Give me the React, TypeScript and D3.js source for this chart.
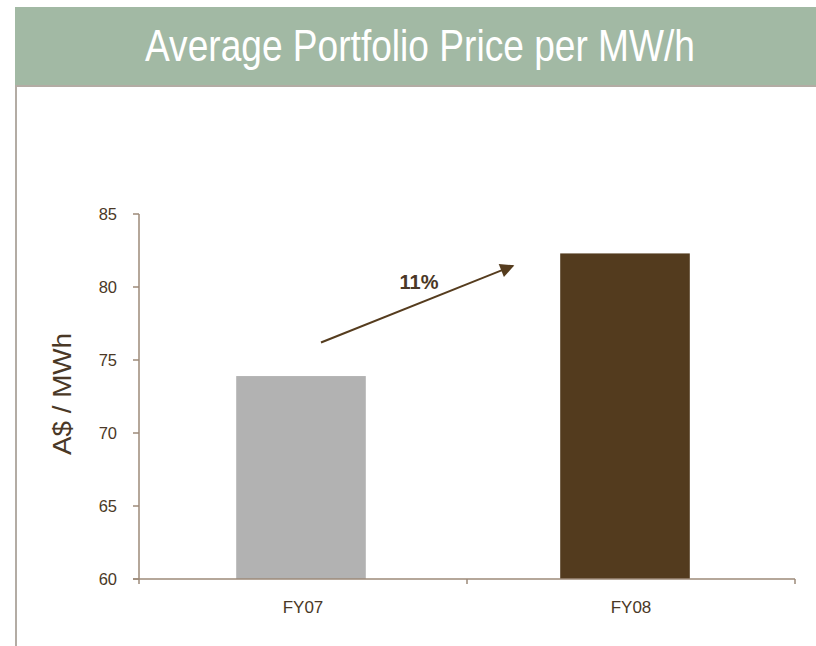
import React from "react";
import * as d3 from "d3";

const categories = ["FY07", "FY08"];
const values = [73.9, 82.3];
const barColors = ["#b2b2b2", "#533b1e"];
const yTicks = [60, 65, 70, 75, 80, 85];
const title = "Average Portfolio Price per MW/h";
const yLabel = "A$ / MWh";
const growthLabel = "11%";
const arrowFrom = 76.2;
const arrowTo = 81.45;

export default function App() {
  const W = 816, H = 646;
  const left = 139, right = 795, top = 214, bottom = 579;
  const x = d3.scaleBand<string>().domain(categories).range([left, right - 8]).paddingInner(0.6).paddingOuter(0.3);
  const xOuter = d3.scaleBand<string>().domain(categories).range([left, right]);
  const y = d3.scaleLinear().domain([60, 85]).range([bottom, top]);
  const axisColor = "#9c8a78";
  const textColor = "#4a3826";
  const x0 = (xOuter(categories[0]) as number) + xOuter.bandwidth() / 2;
  const x1 = (xOuter(categories[1]) as number) + xOuter.bandwidth() / 2;
  const ax1 = x0 + 18, ay1 = y(arrowFrom);
  const ax2 = x1 - 118, ay2 = y(arrowTo);
  return (
    <svg width={W} height={H} style={{ position: "absolute", left: 0, top: 0, fontFamily: "Liberation Sans, Arial, sans-serif" }}>
      <defs>
        <marker id="ah2" viewBox="0 0 10 10" refX="9" refY="5" markerWidth="18" markerHeight="14" orient="auto" markerUnits="userSpaceOnUse">
          <path d="M0,0 L10,5 L0,10 z" fill="#553c1e" />
        </marker>
      </defs>
      <rect x={0} y={0} width={W} height={H} fill="#ffffff" />
      <rect x={15} y={7} width={W - 15} height={79} fill="#a2b9a4" />
      <line x1={15} x2={W} y1={86} y2={86} stroke="#b3aca4" strokeWidth={2} />
      <line x1={16} x2={16} y1={86} y2={H} stroke="#b3aca4" strokeWidth={2} />
      <text x={420} y={61} textAnchor="middle" fill="#ffffff" fontSize={45} textLength={550} lengthAdjust="spacingAndGlyphs">{title}</text>

      {categories.map((c, i) => (
        <rect key={c} x={x(c)} y={y(values[i])} width={x.bandwidth()} height={bottom - y(values[i])} fill={barColors[i]} />
      ))}

      <line x1={left} x2={left} y1={top} y2={bottom} stroke={axisColor} strokeWidth={1.5} />
      {yTicks.map((t) => (
        <g key={t}>
          <line x1={left - 6} x2={left} y1={y(t)} y2={y(t)} stroke={axisColor} strokeWidth={1.5} />
          <text x={117} y={y(t) + 6} textAnchor="end" fontSize={16.5} fill={textColor}>{t}</text>
        </g>
      ))}
      <line x1={left - 6} x2={right} y1={bottom} y2={bottom} stroke={axisColor} strokeWidth={1.5} />
      {[left, left + xOuter.bandwidth(), right].map((tx, i) => (
        <line key={i} x1={tx} x2={tx} y1={bottom} y2={bottom + 5} stroke={axisColor} strokeWidth={1.5} />
      ))}
      {categories.map((c) => (
        <text key={c} x={(xOuter(c) as number) + xOuter.bandwidth() / 2} y={613} textAnchor="middle" fontSize={17} fill={textColor}>{c}</text>
      ))}

      <text transform={`translate(71,394) rotate(-90)`} textAnchor="middle" fontSize={26} fill={textColor} textLength={122} lengthAdjust="spacingAndGlyphs">{yLabel}</text>

      <line x1={ax1} y1={ay1} x2={ax2} y2={ay2} stroke="#553c1e" strokeWidth={2} markerEnd="url(#ah2)" />
      <text x={419} y={289} textAnchor="middle" fontSize={20} fontWeight="bold" fill={textColor}>{growthLabel}</text>
    </svg>
  );
}
